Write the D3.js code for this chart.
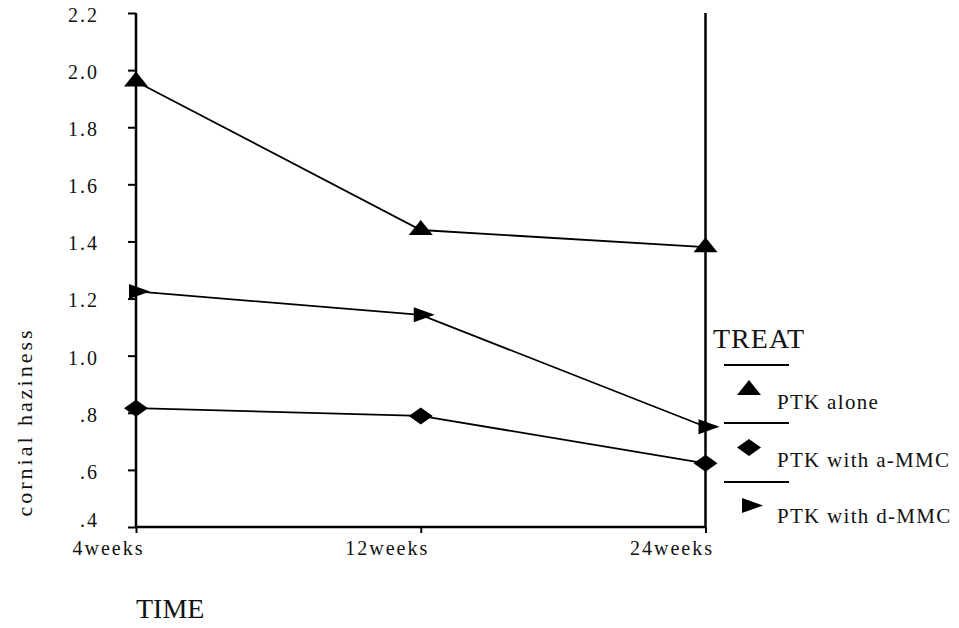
<!DOCTYPE html>
<html><head><meta charset="utf-8">
<script src="https://cdn.jsdelivr.net/npm/d3@7"></script>
<style>
body{margin:0;background:#fff;}
svg text{font-family:"Liberation Serif","Times New Roman",serif !important;fill:#111;}
</style></head>
<body>
<svg id="chart" width="959" height="628"></svg>
<script>
const categories = ["4weeks","12weeks","24weeks"];
const seriesNames = ["PTK alone","PTK with a-MMC","PTK with d-MMC"];
const ptkAlone = [1.96, 1.44, 1.38];
const ptkAMMC  = [0.816, 0.789, 0.623];
const ptkDMMC  = [1.225, 1.143, 0.751];
const yTicks = [0.4,0.6,0.8,1.0,1.2,1.4,1.6,1.8,2.0,2.2];
const yTickLabels = [".4",".6",".8","1.0","1.2","1.4","1.6","1.8","2.0","2.2"];
const yTitle = "cornial haziness";
const xTitle = "TIME";
const legendTitle = "TREAT";

const FONT = '"Liberation Serif","Times New Roman",serif';
const svg = d3.select("#chart");
const x = d3.scalePoint().domain(categories).range([136, 705.5]);
const y = d3.scaleLinear().domain([0.4, 2.2]).range([527, 13]);

const upTri = "M0,-10L12,5L-12,5Z";
const diamond = "M0,-8.5L12,0L0,8.5L-12,0Z";
const rightTri = "M14,0L-7,7.5L-7,-7.5Z";
const series = [
  {name: seriesNames[0], values: ptkAlone, shape: upTri},
  {name: seriesNames[1], values: ptkAMMC, shape: diamond},
  {name: seriesNames[2], values: ptkDMMC, shape: rightTri}
];

// Y axis
const yAxis = d3.axisLeft(y).tickValues(yTicks).tickSize(8)
  .tickFormat((d,i)=>yTickLabels[i]);
const gy = svg.append("g").attr("transform","translate(136,0)").call(yAxis)
  .attr("font-family",FONT).attr("font-size",20);
gy.select(".domain").attr("d","M0,13V527").attr("stroke","#000").attr("stroke-width",2.5);
gy.selectAll(".tick line").attr("stroke","#000").attr("stroke-width",2);
gy.selectAll(".tick text").attr("x",-37).attr("dy",(d,i)=> i===0 ? "-0.05em" : "0.42em")
  .style("font-family",FONT).style("font-size","20px").style("letter-spacing","2px")
  .attr("fill","#111");

// X axis
const xAxis = d3.axisBottom(x).tickSize(6).tickSizeOuter(0);
const gx = svg.append("g").attr("transform","translate(0,527)").call(xAxis)
  .attr("font-family",FONT).attr("font-size",20);
gx.select(".domain").attr("d","M136,0H705.5").attr("stroke","#000").attr("stroke-width",2.5);
gx.selectAll(".tick line").attr("stroke","#000").attr("stroke-width",2);
gx.selectAll(".tick text").attr("text-anchor","end").attr("x",8).attr("y",28).attr("dy",null)
  .style("font-family",FONT).style("font-size","20px").style("letter-spacing","2px")
  .attr("fill","#111");

// right frame line
svg.append("line").attr("x1",x(categories[2])).attr("x2",x(categories[2]))
  .attr("y1",y(2.2)).attr("y2",y(0.4)).attr("stroke","#000").attr("stroke-width",2.5);

// lines
const line = d3.line().x((d,i)=>x(categories[i])).y(d=>y(d));
series.forEach(s=>{
  svg.append("path").attr("d",line(s.values)).attr("fill","none")
    .attr("stroke","#000").attr("stroke-width",1.8);
});
series.forEach(s=>{
  svg.selectAll(null).data(s.values).enter().append("path")
    .attr("d",s.shape).attr("fill","#000")
    .attr("transform",(d,i)=>`translate(${x(categories[i])},${y(d)})`);
});

// titles
svg.append("text").attr("transform","translate(32,422) rotate(-90)")
  .attr("text-anchor","middle").style("font-family",FONT).style("font-size","22px")
  .style("letter-spacing","3px").text(yTitle);
svg.append("text").attr("x",136).attr("y",618).style("font-family",FONT)
  .style("font-size","28px").text(xTitle);

// legend
svg.append("text").attr("x",713).attr("y",348).style("font-family",FONT)
  .style("font-size","28px").style("letter-spacing","1px").text(legendTitle);
const legY = [365, 423, 482];
legY.forEach(ly=>svg.append("line").attr("x1",724).attr("x2",789).attr("y1",ly).attr("y2",ly)
  .attr("stroke","#000").attr("stroke-width",1.8));
const legMarkerPos = [[749,390],[749,447.5],[749,505.5]];
const legTextY = [409, 467, 523];
series.forEach((s,i)=>{
  svg.append("path").attr("d",s.shape).attr("fill","#000")
    .attr("transform",`translate(${legMarkerPos[i][0]},${legMarkerPos[i][1]})`);
  svg.append("text").attr("x",777).attr("y",legTextY[i]).style("font-family",FONT)
    .style("font-size","21px").style("letter-spacing","1.3px").text(s.name);
});
</script>
</body></html>
